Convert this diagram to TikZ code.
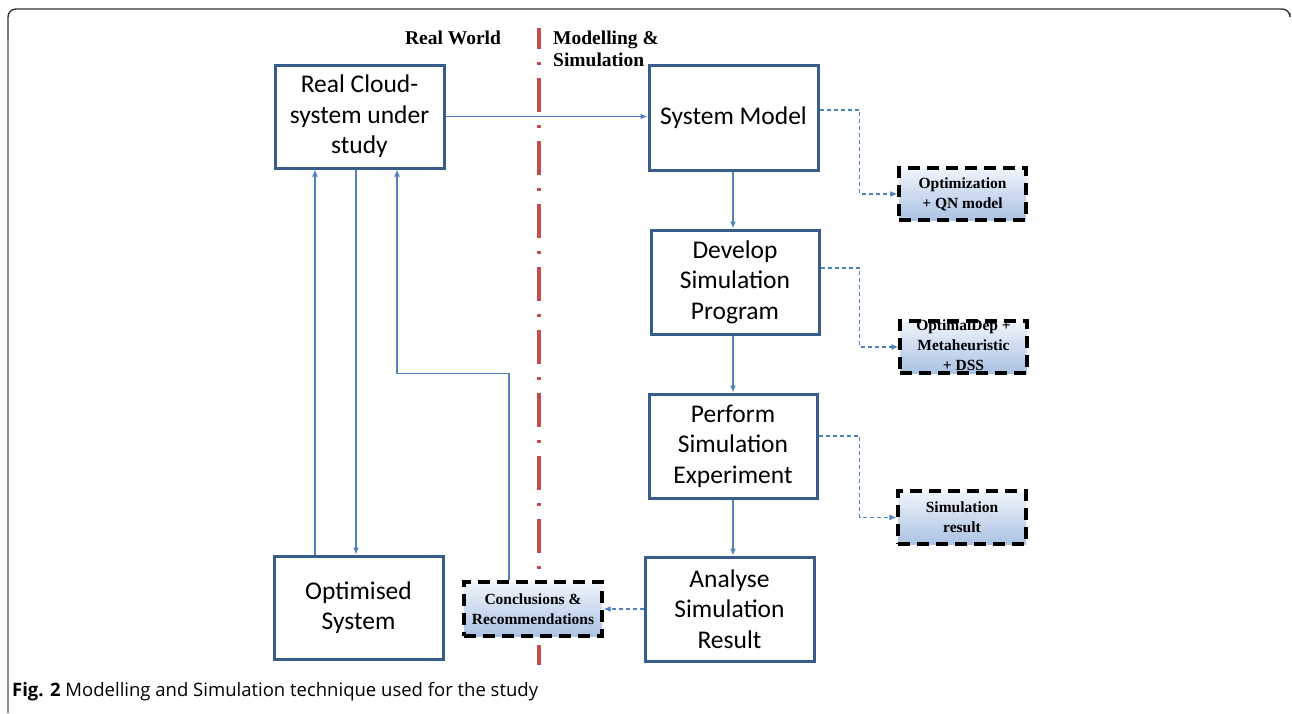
\documentclass[tikz,border=0pt]{standalone}
\usepackage{fontspec}
\setmainfont{Liberation Serif}
\newfontfamily\boxfont{Carlito}
\newfontfamily\capfont{Open Sans}
\usetikzlibrary{arrows.meta}
\definecolor{boxblue}{RGB}{56,93,138}
\definecolor{linkblue}{RGB}{79,129,189}
\definecolor{divred}{RGB}{192,80,77}
\definecolor{shadetop}{RGB}{240,245,251}
\definecolor{shadebot}{RGB}{170,194,227}
\tikzset{
  stage/.style={draw=boxblue, line width=3pt, fill=white, align=center,
    font=\boxfont\fontsize{25.5}{30.5}\selectfont, inner sep=0pt},
  outcome/.style={draw=black, line width=3.3pt, dash pattern=on 12pt off 7pt,
    top color=shadetop, bottom color=shadebot, align=center,
    font=\fontsize{15.5}{20}\selectfont\bfseries, inner sep=0pt},
  link/.style={draw=linkblue, line width=1.3pt, -{Latex[length=7pt,width=6pt]}},
  dlink/.style={link, dash pattern=on 4pt off 3pt},
  side/.style={font=\fontsize{19.5}{22}\selectfont\bfseries, inner sep=0pt}
}
\begin{document}
\begin{tikzpicture}[x=1pt,y=-1pt]
\useasboundingbox (0,0) rectangle (1292,713);

% outer frame
\draw[black!80, line width=1.4pt, rounded corners=8pt] (8,40) -- (8,9) -- (1290,9) -- (1290,13);
\draw[black!45, line width=1.4pt] (8,40) -- (8,713);

% divider between the two worlds
\draw[divred, line width=4pt, dash pattern=on 34pt off 13pt on 3pt off 13pt, dash phase=13pt]
  (539,28) -- (539,665);
\node[side] (rw) at (453,38) {Real World};
\node[side, anchor=west, align=left] (ms) at (553,49) {Modelling \&\\Simulation};

% main stages
\node[stage, minimum width=169pt, minimum height=103pt] (rc) at (359.5,116.5) {Real Cloud-\\system under\\study};
\node[stage, minimum width=169pt, minimum height=105pt] (sm) at (733.5,117.5) {System Model};
\node[stage, minimum width=168pt, minimum height=104pt] (dev) at (735,282) {Develop\\Simulation\\Program};
\node[stage, minimum width=168pt, minimum height=104pt] (perf) at (733,446) {Perform\\Simulation\\Experiment};
\node[stage, minimum width=169pt, minimum height=104pt] (an) at (729.5,609) {Analyse\\Simulation\\Result};
\node[stage, minimum width=169pt, minimum height=103pt] (os) at (358.5,607.5) {Optimised\\System};

% outcomes (the three-line one overflows its frame)
\node[outcome, minimum width=127pt, minimum height=52pt] (opt) at (962.5,194) {Optimization\\+ QN model};
\node[outcome, minimum width=127pt, minimum height=52pt, text height=47pt, text depth=0pt] (dep) at (963.5,347) {OptimalDep +\\Metaheuristic\\+ DSS};
\node[outcome, minimum width=128pt, minimum height=53pt] (res) at (962,517.5) {Simulation\\result};
\node[outcome, minimum width=138pt, minimum height=54pt] (conc) at (533,609) {Conclusions \&\\Recommendations};

% main flow
\draw[link] (rc.east) -- (sm.west |- rc.east);
\draw[link] (sm.south -| 733,0) -- (733,0 |- dev.north);
\draw[link] (dev.south -| 733,0) -- (733,0 |- perf.north);
\draw[link] (perf.south -| 733,0) -- (733,0 |- an.north);

% outcome links
\draw[dlink] ([yshift=7.5pt]sm.east) -- ++(40,0) |- (opt.west);
\draw[dlink] ([yshift=14pt]dev.east) -- ++(39,0) |- (dep.west);
\draw[dlink] ([yshift=10pt]perf.east) -- ++(41,0) |- (res.west);
\draw[dlink] (an.west) -- (conc.east);

% feedback to the real system
\draw[link] ([xshift=-24pt]conc.north) -- ++(0,-207) -| ([xshift=37.5pt]rc.south);
\draw[link] ([xshift=-43.5pt]os.north) -- ([xshift=-43.5pt]os.north |- rc.south);
\draw[link] ([xshift=-3.5pt]rc.south) -- ([xshift=-3.5pt]rc.south |- os.north);

% caption
\node[anchor=west, inner sep=0pt, font=\capfont\fontsize{18.5}{22}\selectfont] (cap) at (12,692)
  {\textbf{Fig. 2} Modelling and Simulation technique used for the study};
\end{tikzpicture}
\end{document}
